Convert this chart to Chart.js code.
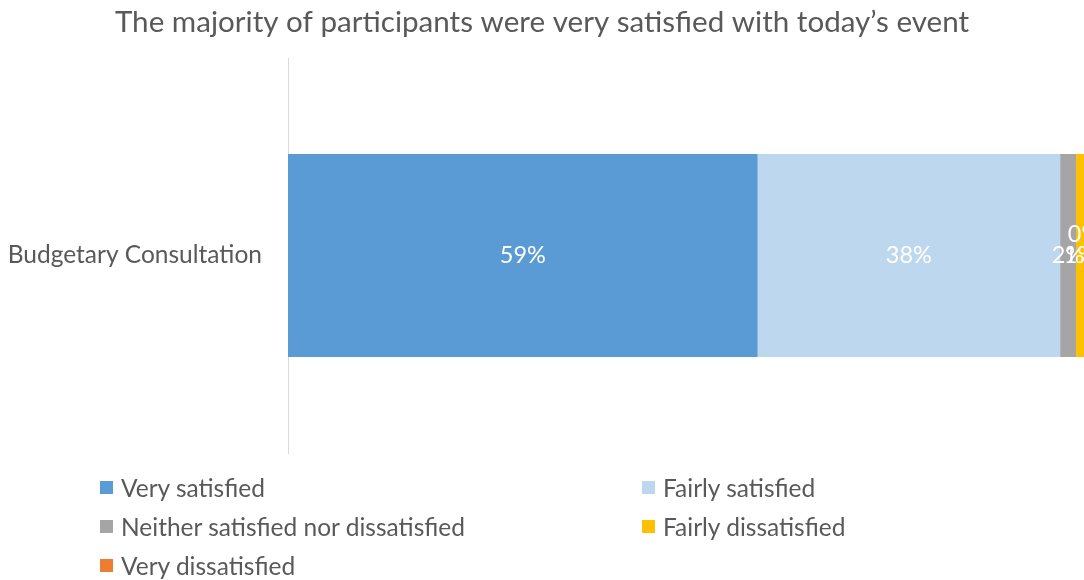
<!DOCTYPE html>
<html>
<head>
<meta charset="utf-8">
<script src="https://cdn.jsdelivr.net/npm/chart.js@4"></script>
<style>
  html, body { margin: 0; padding: 0; background: #fff; }
  #wrap { position: relative; width: 1084px; height: 580px; overflow: hidden; }
  #legend { position: absolute; left: 100px; top: 468px; display: grid;
            grid-template-columns: 542px 400px; row-gap: 0; font-family: Lato, "Liberation Sans", sans-serif;
            font-size: 24.5px; color: #595959; }
  .item { height: 39px; display: flex; align-items: center; }
  .box { width: 13px; height: 13px; margin-right: 8px; flex: none; }
</style>
</head>
<body>
<div id="wrap">
  <canvas id="chart" width="1084" height="580"></canvas>
  <div id="legend"></div>
</div>
<script>
const title = "The majority of participants were very satisfied with today\u2019s event";
const categories = ["Budgetary Consultation"];
const seriesNames = ["Very satisfied", "Fairly satisfied", "Neither satisfied nor dissatisfied", "Fairly dissatisfied", "Very dissatisfied"];
const verySatisfied = [59];
const fairlySatisfied = [38];
const neither = [2];
const fairlyDissatisfied = [1];
const veryDissatisfied = [0];
const colors = ["#5B9BD5", "#BDD7EE", "#A5A5A5", "#FFC000", "#ED7D31"];

const seriesValues = [verySatisfied, fairlySatisfied, neither, fairlyDissatisfied, veryDissatisfied];
const fontFamily = 'Lato, "Liberation Sans", sans-serif';

// draws the percentage in the middle of each segment
const valueLabels = {
    id: "valueLabels",
    afterDatasetsDraw(chart) {
        const ctx = chart.ctx;
        ctx.save();
        ctx.font = "23.5px " + fontFamily;
        ctx.fillStyle = "#ffffff";
        ctx.textAlign = "center";
        ctx.textBaseline = "middle";
        chart.data.datasets.forEach((ds, i) => {
            chart.getDatasetMeta(i).data.forEach((bar, j) => {
                const v = ds.data[j];
                const x = (bar.x + bar.base) / 2;
                const y = v === 0 ? bar.y - 21 : bar.y;
                ctx.fillText(v + "%", x, y);
            });
        });
        ctx.restore();
    }
};

const ctx = document.getElementById("chart").getContext("2d");
new Chart(ctx, {
    type: "bar",
    data: {
        labels: categories,
        datasets: seriesNames.map((name, i) => ({
            label: name,
            data: seriesValues[i],
            backgroundColor: colors[i],
            borderWidth: 0,
            categoryPercentage: 1,
            barPercentage: 0.514
        }))
    },
    options: {
        indexAxis: "y",
        responsive: false,
        animation: false,
        layout: { padding: { left: 0, right: 0, top: 0, bottom: 127 } },
        plugins: {
            legend: { display: false },
            tooltip: { enabled: false },
            title: {
                display: true,
                text: title,
                color: "#595959",
                font: { family: fontFamily, size: 29.6, weight: "normal" },
                padding: { top: 5, bottom: 17.5 }
            }
        },
        scales: {
            x: { stacked: true, min: 0, max: 100, display: false },
            y: {
                stacked: true,
                grid: { display: false },
                border: { display: true, color: "#D9D9D9", width: 1 },
                ticks: { color: "#595959", font: { family: fontFamily, size: 24.5 }, padding: 18 },
                afterFit(scale) { scale.width = 288; }
            }
        }
    },
    plugins: [valueLabels]
});

const legend = document.getElementById("legend");
seriesNames.forEach((name, i) => {
    const item = document.createElement("div");
    item.className = "item";
    const box = document.createElement("span");
    box.className = "box";
    box.style.background = colors[i];
    item.appendChild(box);
    item.appendChild(document.createTextNode(name));
    legend.appendChild(item);
});
</script>
</body>
</html>
